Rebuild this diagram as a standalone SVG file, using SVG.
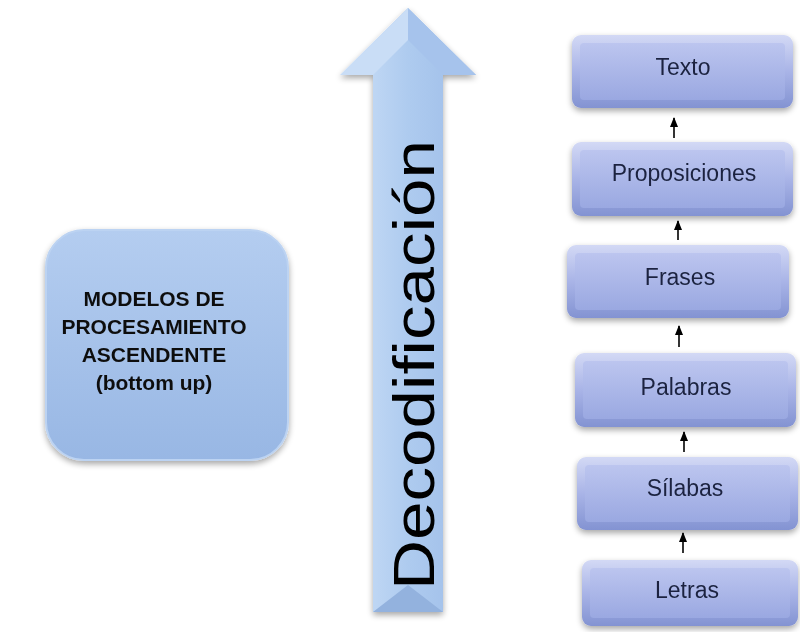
<svg xmlns="http://www.w3.org/2000/svg" width="800" height="632" viewBox="0 0 800 632">
<defs>
  <linearGradient id="gLeft" x1="0" y1="0" x2="0" y2="1">
    <stop offset="0" stop-color="#b4cdf0"/>
    <stop offset="1" stop-color="#98b7e4"/>
  </linearGradient>
  <linearGradient id="gBoxOuter" x1="0" y1="0" x2="0" y2="1">
    <stop offset="0" stop-color="#d3d9f5"/>
    <stop offset="0.5" stop-color="#a9b4e7"/>
    <stop offset="1" stop-color="#8393d2"/>
  </linearGradient>
  <linearGradient id="gBoxInner" x1="0" y1="0" x2="0" y2="1">
    <stop offset="0" stop-color="#bcc5ef"/>
    <stop offset="1" stop-color="#9aa8e1"/>
  </linearGradient>
  <linearGradient id="gShaft" x1="0" y1="0" x2="1" y2="0">
    <stop offset="0" stop-color="#eef5fd"/>
    <stop offset="0.15" stop-color="#c4daf5"/>
    <stop offset="0.5" stop-color="#aecbef"/>
    <stop offset="1" stop-color="#9dbce8"/>
  </linearGradient>
  <filter id="shadow" x="-20%" y="-20%" width="140%" height="150%">
    <feGaussianBlur in="SourceAlpha" stdDeviation="3"/>
    <feOffset dx="0" dy="3" result="b"/>
    <feComponentTransfer><feFuncA type="linear" slope="0.35"/></feComponentTransfer>
    <feMerge><feMergeNode/><feMergeNode in="SourceGraphic"/></feMerge>
  </filter>
  <marker id="ah" viewBox="0 0 10 8" refX="9" refY="4" markerWidth="10" markerHeight="8" markerUnits="userSpaceOnUse" orient="auto">
    <path d="M0,0 L10,4 L0,8 Z" fill="#000"/>
  </marker>
  <style>
    .lbl{font-family:"Liberation Sans",Arial,sans-serif;font-size:23px;fill:#1c2440;text-anchor:middle}
    .main{font-family:"Liberation Sans",Arial,sans-serif;font-size:21px;font-weight:bold;fill:#111;text-anchor:middle}
    .conn{stroke:#000;stroke-width:1.6;fill:none}
  </style>
</defs>
<rect width="800" height="632" fill="#ffffff"/>

<g id="modelos" filter="url(#shadow)">
  <rect x="46" y="230" width="242" height="230" rx="38" fill="url(#gLeft)" stroke="#bcd3f2" stroke-width="2"/>
  <text class="main" x="154" y="306">MODELOS DE</text>
  <text class="main" x="154" y="334">PROCESAMIENTO</text>
  <text class="main" x="154" y="362">ASCENDENTE</text>
  <text class="main" x="154" y="390">(bottom up)</text>
</g>

<g id="decodificacion" filter="url(#shadow)">
  <path d="M408,8 L476,75 L443,75 L443,612 L373,612 L373,75 L340,75 Z" fill="url(#gShaft)"/>
  <path d="M408,8 L340,75 L373,75 L408,40 Z" fill="#c9ddf6"/>
  <path d="M408,8 L476,75 L443,75 L408,40 Z" fill="#a6c3ec"/>
  <path d="M373,612 L408,585 L443,612 Z" fill="#93b2de"/>
  <text transform="translate(434,365) rotate(-90)" x="0" y="0" text-anchor="middle" font-family="Liberation Sans, Arial, sans-serif" font-size="58" fill="#000" textLength="450" lengthAdjust="spacingAndGlyphs">Decodificación</text>
</g>

<g id="texto" filter="url(#shadow)">
  <rect x="572" y="35" width="221" height="73" rx="9" fill="url(#gBoxOuter)"/>
  <rect x="580" y="43" width="205" height="57" rx="4" fill="url(#gBoxInner)"/>
  <text class="lbl" x="683" y="75">Texto</text>
</g>
<g id="proposiciones" filter="url(#shadow)">
  <rect x="572" y="142" width="221" height="74" rx="9" fill="url(#gBoxOuter)"/>
  <rect x="580" y="150" width="205" height="58" rx="4" fill="url(#gBoxInner)"/>
  <text class="lbl" x="684" y="181">Proposiciones</text>
</g>
<g id="frases" filter="url(#shadow)">
  <rect x="567" y="245" width="222" height="73" rx="9" fill="url(#gBoxOuter)"/>
  <rect x="575" y="253" width="206" height="57" rx="4" fill="url(#gBoxInner)"/>
  <text class="lbl" x="680" y="285">Frases</text>
</g>
<g id="palabras" filter="url(#shadow)">
  <rect x="575" y="353" width="221" height="74" rx="9" fill="url(#gBoxOuter)"/>
  <rect x="583" y="361" width="205" height="58" rx="4" fill="url(#gBoxInner)"/>
  <text class="lbl" x="686" y="395">Palabras</text>
</g>
<g id="silabas" filter="url(#shadow)">
  <rect x="577" y="457" width="221" height="73" rx="9" fill="url(#gBoxOuter)"/>
  <rect x="585" y="465" width="205" height="57" rx="4" fill="url(#gBoxInner)"/>
  <text class="lbl" x="685" y="496">Sílabas</text>
</g>
<g id="letras" filter="url(#shadow)">
  <rect x="582" y="560" width="216" height="66" rx="9" fill="url(#gBoxOuter)"/>
  <rect x="590" y="568" width="200" height="50" rx="4" fill="url(#gBoxInner)"/>
  <text class="lbl" x="687" y="598">Letras</text>
</g>

<g id="connectors">
  <line class="conn" x1="674" y1="138" x2="674" y2="118" marker-end="url(#ah)"/>
  <line class="conn" x1="678" y1="240" x2="678" y2="221" marker-end="url(#ah)"/>
  <line class="conn" x1="679" y1="347" x2="679" y2="326" marker-end="url(#ah)"/>
  <line class="conn" x1="684" y1="452" x2="684" y2="432" marker-end="url(#ah)"/>
  <line class="conn" x1="683" y1="553" x2="683" y2="533" marker-end="url(#ah)"/>
</g>
</svg>
